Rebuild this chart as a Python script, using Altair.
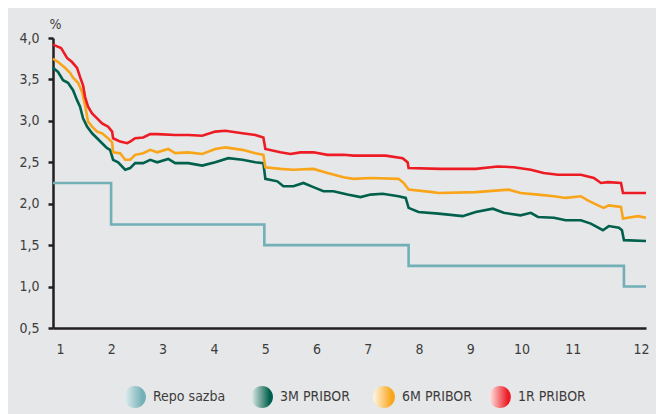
import altair as alt
import pandas as pd

# ---------------- data (x = month position, y = %) ----------------
repo_m = [0.863, 1.996, 4.984, 7.797, 11.996, 12.426]
repo_v = [2.25, 1.75, 1.50, 1.25, 1.00, 1.00]

m3_m = [0.863, 0.961, 1.059, 1.156, 1.254, 1.332, 1.39, 1.449, 1.527, 1.625, 1.723, 1.82, 1.918, 1.977,
        2.035, 2.133, 2.27, 2.367, 2.465, 2.621, 2.758, 2.895, 3.11, 3.246, 3.5, 3.773, 4.027, 4.281,
        4.555, 4.809, 4.965, 5.004, 5.238, 5.355, 5.55, 5.746, 5.941, 6.137, 6.33, 6.605, 6.86, 7.055,
        7.29, 7.60, 7.74, 7.797, 7.99, 8.38, 8.85, 9.105, 9.44, 9.65, 9.98, 10.18, 10.32, 10.63, 10.86,
        11.156, 11.35, 11.586, 11.70, 11.898, 11.957, 11.996, 12.426]
m3_v = [3.64, 3.59, 3.49, 3.46, 3.37, 3.25, 3.17, 3.03, 2.93, 2.85, 2.79, 2.73, 2.67, 2.65,
        2.53, 2.50, 2.41, 2.43, 2.49, 2.49, 2.53, 2.50, 2.54, 2.49, 2.49, 2.46, 2.50, 2.55,
        2.53, 2.50, 2.49, 2.30, 2.27, 2.21, 2.21, 2.25, 2.20, 2.15, 2.15, 2.11, 2.08, 2.11,
        2.12, 2.09, 2.07, 1.95, 1.90, 1.88, 1.85, 1.90, 1.94, 1.89, 1.86, 1.89, 1.84, 1.83, 1.80,
        1.80, 1.76, 1.68, 1.73, 1.71, 1.68, 1.56, 1.55]

m6_m = [0.863, 0.961, 1.098, 1.195, 1.254, 1.352, 1.43, 1.488, 1.547, 1.625, 1.723, 1.82, 1.918, 2.016,
        2.035, 2.172, 2.27, 2.367, 2.465, 2.621, 2.758, 2.895, 3.11, 3.246, 3.5, 3.773, 4.027, 4.223,
        4.555, 4.809, 4.965, 5.004, 5.297, 5.55, 5.941, 6.215, 6.527, 6.723, 7.055, 7.60, 7.70, 7.797,
        8.266, 8.38, 9.105, 9.75, 9.98, 10.32, 10.63, 10.86, 11.156, 11.29, 11.49, 11.60, 11.70,
        11.938, 11.977, 12.27, 12.426]
m6_v = [3.75, 3.71, 3.64, 3.58, 3.52, 3.46, 3.35, 3.19, 2.99, 2.93, 2.87, 2.85, 2.80, 2.74,
        2.62, 2.61, 2.53, 2.53, 2.59, 2.61, 2.65, 2.62, 2.66, 2.61, 2.62, 2.60, 2.66, 2.68,
        2.65, 2.61, 2.59, 2.44, 2.42, 2.41, 2.42, 2.37, 2.32, 2.30, 2.31, 2.30, 2.25, 2.17,
        2.14, 2.13, 2.14, 2.17, 2.13, 2.11, 2.09, 2.07, 2.09, 2.04, 1.98, 1.95, 1.98,
        1.96, 1.82, 1.85, 1.83]

r1_m = [0.863, 1.02, 1.137, 1.234, 1.332, 1.39, 1.449, 1.488, 1.547, 1.625, 1.723, 1.82, 1.938, 2.016,
        2.035, 2.172, 2.309, 2.367, 2.465, 2.621, 2.758, 2.895, 3.246, 3.5, 3.773, 4.027, 4.223, 4.555,
        4.809, 4.965, 5.004, 5.297, 5.492, 5.688, 5.941, 6.215, 6.527, 6.723, 7.055, 7.348, 7.68, 7.777,
        7.797, 8.42, 9.105, 9.535, 9.848, 10.18, 10.43, 10.71, 11.156, 11.41, 11.547, 11.684, 11.938,
        11.977, 12.426]
r1_v = [3.92, 3.88, 3.76, 3.71, 3.64, 3.53, 3.43, 3.29, 3.17, 3.09, 3.03, 2.97, 2.93, 2.87,
        2.79, 2.75, 2.73, 2.75, 2.79, 2.80, 2.84, 2.84, 2.83, 2.83, 2.82, 2.87, 2.88, 2.85,
        2.83, 2.80, 2.66, 2.62, 2.60, 2.62, 2.62, 2.59, 2.59, 2.58, 2.58, 2.58, 2.55, 2.50,
        2.43, 2.42, 2.42, 2.45, 2.44, 2.41, 2.37, 2.35, 2.35, 2.31, 2.25, 2.26, 2.25,
        2.13, 2.13]

series_names = ["Repo sazba", "3M PRIBOR", "6M PRIBOR", "1R PRIBOR"]
series_colors = ["#72AFB6", "#00604C", "#F9A51A", "#ED1C24"]
legend_light = ["#E4F0F1", "#E8EEEC", "#FFF6E4", "#FDEAEA"]

x_tick_pos = [1, 2, 3, 4, 5, 6, 7, 8, 9, 10, 11, 12.33]
x_tick_lab = ["1", "2", "3", "4", "5", "6", "7", "8", "9", "10", "11", "12"]
y_ticks = [0.5, 1.0, 1.5, 2.0, 2.5, 3.0, 3.5, 4.0]

# ---------------- frames ----------------
repo_df = pd.DataFrame({"m": repo_m, "v": repo_v, "s": series_names[0]})
lines_df = pd.concat([
    pd.DataFrame({"m": m3_m, "v": m3_v, "s": series_names[1], "o": 1}),
    pd.DataFrame({"m": m6_m, "v": m6_v, "s": series_names[2], "o": 2}),
    pd.DataFrame({"m": r1_m, "v": r1_v, "s": series_names[3], "o": 3}),
], ignore_index=True)

FONT = "Liberation Sans Narrow, DejaVu Sans Condensed, sans-serif"
W, H = 593, 290

lab_map = "{" + ",".join(f"'{p}':'{l}'" for p, l in zip(x_tick_pos, x_tick_lab)) + "}"

x_enc = alt.X("m:Q", scale=alt.Scale(domain=[0.863, 12.426], nice=False, zero=False),
              axis=alt.Axis(values=x_tick_pos, labelExpr=f"{lab_map}[toString(datum.value)]",
                            ticks=False, labelPadding=14, title=None, grid=False,
                            labelFontSize=14, labelColor="#3C3C3C", labelFont=FONT,
                            domainColor="#231F20", domainWidth=2.5))
y_enc = alt.Y("v:Q", scale=alt.Scale(domain=[0.5, 4.0], nice=False, zero=False),
              axis=alt.Axis(values=y_ticks, labelExpr="replace(format(datum.value, '.1f'), '.', ',')",
                            tickSize=5, tickWidth=2.5, tickColor="#231F20", labelPadding=9,
                            title="%", titleAngle=0, titleAlign="left", titleX=-4, titleY=-10,
                            titleBaseline="alphabetic", titleFontSize=14, titleFontWeight="normal",
                            titleColor="#3C3C3C", titleFont=FONT, grid=False,
                            labelFontSize=14, labelColor="#3C3C3C", labelFont=FONT,
                            domainColor="#231F20", domainWidth=2.5))

color_scale = alt.Scale(domain=series_names, range=series_colors)

repo_line = alt.Chart(repo_df).mark_line(interpolate="step-after", strokeWidth=2.6).encode(
    x=x_enc, y=y_enc, color=alt.Color("s:N", scale=color_scale, legend=None))

rate_lines = alt.Chart(lines_df).mark_line(strokeWidth=2.6).encode(
    x=alt.X("m:Q"), y=alt.Y("v:Q"),
    color=alt.Color("s:N", scale=color_scale, legend=None),
    order=alt.Order("o:Q"))

# ---------------- manual legend with gradient circles ----------------
legend_df = pd.DataFrame({"s": series_names})
legend_x = [82, 209, 331, 447]
legend_layers = []
for i, name in enumerate(series_names):
    grad = alt.Gradient(gradient="linear",
                        stops=[alt.GradientStop(color=legend_light[i], offset=0),
                               alt.GradientStop(color=series_colors[i], offset=0.85)],
                        x1=0, x2=1, y1=0, y2=0)
    base = alt.Chart(legend_df).transform_filter(alt.datum.s == name)
    legend_layers.append(base.mark_point(shape="circle", size=480, filled=True, fill=grad,
                                         opacity=1, strokeWidth=0).encode(
        x=alt.value(legend_x[i]), y=alt.value(H + 69)))
    legend_layers.append(base.mark_text(align="left", baseline="middle", fontSize=14,
                                        font=FONT, color="#3C3C3C").encode(
        x=alt.value(legend_x[i] + 18), y=alt.value(H + 69), text="s:N"))

chart = alt.layer(repo_line, rate_lines, *legend_layers).properties(
    width=W, height=H,
    autosize=alt.AutoSizeParams(type="none"),
    padding={"left": 45, "top": 30, "right": 10, "bottom": 86},
    background="#E6E7E8",
).configure_view(stroke=None)

chart.save("out.html", embed_options={"renderer": "svg", "actions": False})
